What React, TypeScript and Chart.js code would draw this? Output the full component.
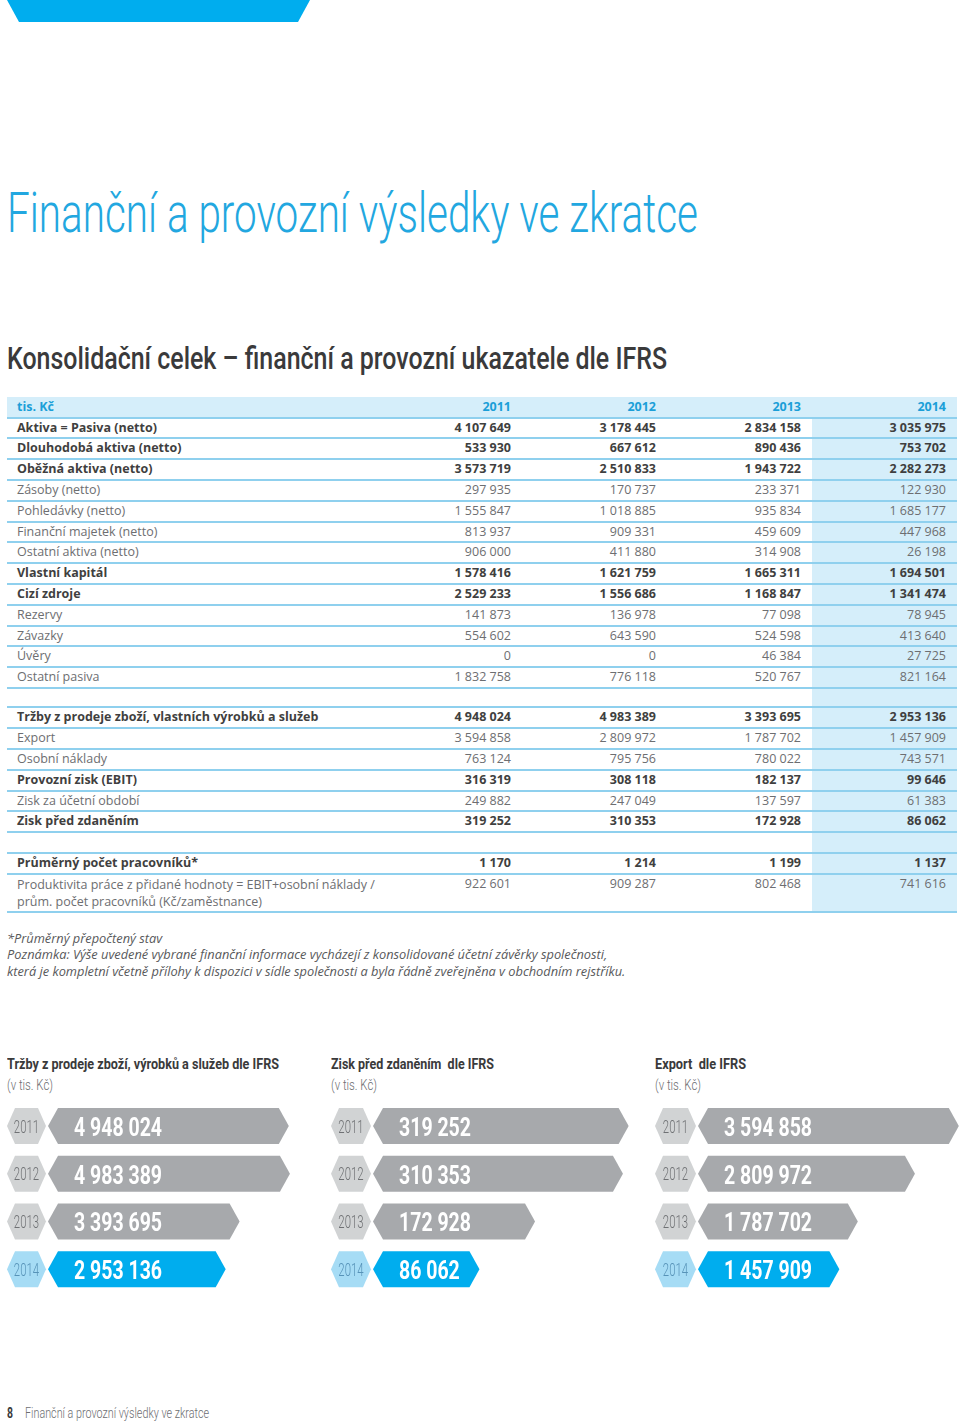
import React, { useEffect, useLayoutEffect, useRef } from 'react';
import { Chart, registerables } from 'chart.js';

Chart.register(...registerables);

// ---------- chart data ----------
const years = ['2011', '2012', '2013', '2014'];
const trzby = [4948024, 4983389, 3393695, 2953136];
const ziskPredZdanenim = [319252, 310353, 172928, 86062];
const exportIFRS = [3594858, 2809972, 1787702, 1457909];

// ---------- table data ----------
type Row = [string, string, string, string, string, boolean];
const tableYears = ['2011', '2012', '2013', '2014'];
const balanceRows: Row[] = [
  ['Aktiva = Pasiva (netto)', '4 107 649', '3 178 445', '2 834 158', '3 035 975', true],
  ['Dlouhodobá aktiva (netto)', '533 930', '667 612', '890 436', '753 702', true],
  ['Oběžná aktiva (netto)', '3 573 719', '2 510 833', '1 943 722', '2 282 273', true],
  ['Zásoby (netto)', '297 935', '170 737', '233 371', '122 930', false],
  ['Pohledávky (netto)', '1 555 847', '1 018 885', '935 834', '1 685 177', false],
  ['Finanční majetek (netto)', '813 937', '909 331', '459 609', '447 968', false],
  ['Ostatní aktiva (netto)', '906 000', '411 880', '314 908', '26 198', false],
  ['Vlastní kapitál', '1 578 416', '1 621 759', '1 665 311', '1 694 501', true],
  ['Cizí zdroje', '2 529 233', '1 556 686', '1 168 847', '1 341 474', true],
  ['Rezervy', '141 873', '136 978', '77 098', '78 945', false],
  ['Závazky', '554 602', '643 590', '524 598', '413 640', false],
  ['Úvěry', '0', '0', '46 384', '27 725', false],
  ['Ostatní pasiva', '1 832 758', '776 118', '520 767', '821 164', false],
];
const resultRows: Row[] = [
  ['Tržby z prodeje zboží, vlastních výrobků a služeb', '4 948 024', '4 983 389', '3 393 695', '2 953 136', true],
  ['Export', '3 594 858', '2 809 972', '1 787 702', '1 457 909', false],
  ['Osobní náklady', '763 124', '795 756', '780 022', '743 571', false],
  ['Provozní zisk (EBIT)', '316 319', '308 118', '182 137', '99 646', true],
  ['Zisk za účetní období', '249 882', '247 049', '137 597', '61 383', false],
  ['Zisk před zdaněním', '319 252', '310 353', '172 928', '86 062', true],
];
const staffRows: Row[] = [
  ['Průměrný počet pracovníků*', '1 170', '1 214', '1 199', '1 137', true],
  ['Produktivita práce z přidané hodnoty = EBIT+osobní náklady /\nprům. počet pracovníků (Kč/zaměstnance)', '922 601', '909 287', '802 468', '741 616', false],
];
const noteLines = [
  '*Průměrný přepočtený stav',
  'Poznámka: Výše uvedené vybrané finanční informace vycházejí z konsolidované účetní závěrky společnosti,',
  'která je kompletní včetně přílohy k dispozici v sídle společnosti a byla řádně zveřejněna v obchodním rejstříku.',
];

// ---------- styles ----------
const BLUE = '#00adee';
const TITLE_BLUE = '#22a7e0';
const HEAD_BLUE = '#1b9fd8';
const LIGHT = '#d5eefa';
const LINE = '#8fd0ee';
const DARK = '#3f3f40';
const GRAY = '#6d6e71';
const BAR_GRAY = '#a7a9ac';
const TAG_GRAY = '#d1d3d4';
const TAG_BLUE = '#a6dcf5';
const TAG_TEXT_GRAY = '#6f7174';
const TAG_TEXT_BLUE = '#5793b8';
const TABLE_FONT = '"Open Sans", "Noto Sans", sans-serif';
const COND_FONT = 'Roboto, sans-serif';
const NUM_RIGHT = [511, 656, 801, 946];
const ROW_H = 20.8;

const fmt = (n: number) => String(n).replace(/\B(?=(\d{3})+(?!\d))/g, ' ');

// ---------- helpers ----------
function FitText(props: {
  text: string; x: number; baseline: number; width: number; size: number;
  weight: number; color: string; family?: string; italic?: boolean;
}) {
  const { text, x, baseline, width, size, weight, color, family = COND_FONT, italic = false } = props;
  const ref = useRef<HTMLSpanElement>(null);
  useLayoutEffect(() => {
    const el = ref.current;
    if (!el) return;
    const fit = () => {
      el.style.transform = 'none';
      const w = el.getBoundingClientRect().width;
      if (w > 0) el.style.transform = `scaleX(${width / w})`;
    };
    fit();
    if ((document as any).fonts && (document as any).fonts.ready) (document as any).fonts.ready.then(fit);
  }, [text, width]);
  const top = baseline - 0.842 * size;
  return (
    <span
      ref={ref}
      style={{
        position: 'absolute', left: x, top, fontFamily: family, fontSize: size, fontWeight: weight,
        fontStyle: italic ? 'italic' : 'normal', color, lineHeight: 1, whiteSpace: 'pre',
        transformOrigin: '0 0', display: 'inline-block',
      }}
    >
      {text}
    </span>
  );
}

function HLine({ y }: { y: number }) {
  return <div style={{ position: 'absolute', left: 7, top: y - 1, width: 950, height: 2, background: LINE }} />;
}

function TableRow({ row, top, height, header = false }: { row: Row; top: number; height: number; header?: boolean }) {
  const [label, a, b, c, d, bold] = row;
  const color = header ? HEAD_BLUE : bold ? DARK : GRAY;
  const twoLine = label.includes('\n');
  const base: React.CSSProperties = {
    position: 'absolute', fontFamily: TABLE_FONT, fontSize: 12.5, fontWeight: bold ? 700 : 400,
    color, whiteSpace: 'pre',
  };
  return (
    <>
      <div
        style={{
          ...base, left: 17, top: twoLine ? top + 1.5 : top, height,
          lineHeight: twoLine ? '17px' : `${height}px`,
        }}
      >
        {label}
      </div>
      {[a, b, c, d].map((v, i) => (
        <div
          key={i}
          style={{
            ...base, right: 960 - NUM_RIGHT[i], top, height: twoLine ? ROW_H : height,
            lineHeight: `${twoLine ? ROW_H : height}px`, textAlign: 'right',
          }}
        >
          {v}
        </div>
      ))}
    </>
  );
}

const hexBarPlugin = {
  id: 'hexBars',
  afterDatasetsDraw(chart: any) {
    const ctx: CanvasRenderingContext2D = chart.ctx;
    const meta = chart.getDatasetMeta(0);
    const labels = chart.data.labels;
    const data = chart.data.datasets[0].data as number[];
    const last = data.length - 1;
    const tagRight = chart.chartArea.left - 2;
    meta.data.forEach((el: any, i: number) => {
      const { x, y, base, height } = el.getProps(['x', 'y', 'base', 'height'], true);
      const top = y - height / 2;
      const bot = y + height / 2;
      const hl = i === last;
      // year tag
      const d2 = 8;
      ctx.save();
      ctx.fillStyle = hl ? TAG_BLUE : TAG_GRAY;
      ctx.beginPath();
      ctx.moveTo(0, y);
      ctx.lineTo(d2, top);
      ctx.lineTo(tagRight - d2, top);
      ctx.lineTo(tagRight, y);
      ctx.lineTo(tagRight - d2, bot);
      ctx.lineTo(d2, bot);
      ctx.closePath();
      ctx.fill();
      // bar
      const d = 10;
      ctx.fillStyle = hl ? BLUE : BAR_GRAY;
      ctx.beginPath();
      ctx.moveTo(base, y);
      ctx.lineTo(base + d, top);
      ctx.lineTo(x - d, top);
      ctx.lineTo(x, y);
      ctx.lineTo(x - d, bot);
      ctx.lineTo(base + d, bot);
      ctx.closePath();
      ctx.fill();
      ctx.restore();
      // year text
      ctx.save();
      ctx.translate(tagRight / 2, y + 6.8);
      ctx.scale(0.6, 1);
      ctx.font = '300 19px Roboto';
      ctx.textAlign = 'center';
      ctx.textBaseline = 'alphabetic';
      ctx.fillStyle = hl ? TAG_TEXT_BLUE : TAG_TEXT_GRAY;
      ctx.fillText(String(labels[i]), 0, 0);
      ctx.restore();
      // value text
      ctx.save();
      ctx.translate(base + 26, y + 10);
      ctx.scale(0.78, 1);
      ctx.font = 'bold 25px Roboto';
      ctx.textAlign = 'left';
      ctx.textBaseline = 'alphabetic';
      ctx.fillStyle = '#ffffff';
      ctx.fillText(fmt(data[i]), 0, 0);
      ctx.restore();
    });
  },
};

function HexBarChart(props: { values: number[]; left: number; width: number; padLeft: number; axisMin: number; axisMax: number }) {
  const { values, left, width, padLeft, axisMin, axisMax } = props;
  const ref = useRef<HTMLCanvasElement>(null);
  useEffect(() => {
    if (!ref.current) return;
    const chart = new Chart(ref.current, {
      type: 'bar',
      data: {
        labels: years,
        datasets: [{
          data: values,
          backgroundColor: 'rgba(0,0,0,0)',
          borderWidth: 0,
          barThickness: 36,
          base: axisMin,
        } as any],
      },
      options: {
        indexAxis: 'y',
        animation: false,
        responsive: false,
        maintainAspectRatio: false,
        layout: { padding: { left: padLeft, right: 0, top: 2, bottom: 3 } },
        scales: {
          x: { display: false, min: axisMin, max: axisMax },
          y: { display: false },
        },
        plugins: { legend: { display: false }, tooltip: { enabled: false } },
      },
      plugins: [hexBarPlugin],
    });
    return () => chart.destroy();
  }, []);
  return (
    <canvas
      ref={ref}
      width={width}
      height={196}
      style={{ position: 'absolute', left, top: 1100, width, height: 196 }}
    />
  );
}

export default function App() {
  const headerTop = 397;
  const block1Top = 417.5;
  const block2Top = 707.3;
  const block3Top = 853.3;
  const lines: number[] = [];
  for (let k = 0; k <= balanceRows.length; k++) lines.push(block1Top + ROW_H * k);
  for (let k = 0; k <= resultRows.length; k++) lines.push(block2Top + ROW_H * k);
  lines.push(block3Top, block3Top + ROW_H, 912);

  return (
    <div style={{ position: 'absolute', left: 0, top: 0, width: 960, height: 1421, background: '#fff', overflow: 'hidden' }}>
      {/* top tab */}
      <div
        style={{
          position: 'absolute', left: 7, top: 0, width: 303, height: 22, background: BLUE,
          clipPath: 'polygon(0 0, 100% 0, calc(100% - 12px) 100%, 12px 100%)',
        }}
      />
      <FitText text="Finanční a provozní výsledky ve zkratce" x={7} baseline={232.5} width={691} size={56} weight={300} color={TITLE_BLUE} />
      <FitText text="Konsolidační celek – finanční a provozní ukazatele dle IFRS" x={7} baseline={369.5} width={660} size={31} weight={500} color="#3a3a3b" />

      {/* table backgrounds */}
      <div style={{ position: 'absolute', left: 7, top: headerTop, width: 950, height: block1Top - headerTop, background: LIGHT }} />
      <div style={{ position: 'absolute', left: 812, top: headerTop, width: 145, height: 912 - headerTop, background: LIGHT }} />
      {lines.map((y, i) => <HLine key={i} y={y} />)}

      <TableRow row={['tis. Kč', tableYears[0], tableYears[1], tableYears[2], tableYears[3], true]} top={headerTop} height={block1Top - headerTop - 1} header />
      {balanceRows.map((r, k) => <TableRow key={'b' + k} row={r} top={block1Top + ROW_H * k} height={ROW_H} />)}
      {resultRows.map((r, k) => <TableRow key={'r' + k} row={r} top={block2Top + ROW_H * k} height={ROW_H} />)}
      <TableRow row={staffRows[0]} top={block3Top} height={ROW_H} />
      <TableRow row={staffRows[1]} top={block3Top + ROW_H} height={912 - block3Top - ROW_H} />

      {/* notes */}
      {noteLines.map((t, i) => (
        <div
          key={i}
          style={{
            position: 'absolute', left: 7, top: 929.5 + i * 16.5, height: 17, lineHeight: '17px',
            fontFamily: TABLE_FONT, fontStyle: 'italic', fontSize: 12.8, color: '#58595b', whiteSpace: 'pre',
          }}
        >
          {t}
        </div>
      ))}

      {/* chart titles */}
      <FitText text="Tržby z prodeje zboží, výrobků a služeb dle IFRS" x={7} baseline={1070.7} width={272} size={14.5} weight={700} color="#3a3a3b" />
      <FitText text="(v tis. Kč)" x={7} baseline={1089.5} width={46} size={14} weight={300} color={GRAY} />
      <FitText text="Zisk před zdaněním  dle IFRS" x={331} baseline={1070.7} width={163} size={14.5} weight={700} color="#3a3a3b" />
      <FitText text="(v tis. Kč)" x={331} baseline={1089.5} width={46} size={14} weight={300} color={GRAY} />
      <FitText text="Export  dle IFRS" x={655} baseline={1070.7} width={91} size={14.5} weight={700} color="#3a3a3b" />
      <FitText text="(v tis. Kč)" x={655} baseline={1089.5} width={46} size={14} weight={300} color={GRAY} />

      <HexBarChart values={trzby} left={7} width={313} padLeft={41} axisMin={-2660000} axisMax={5933000} />
      <HexBarChart values={ziskPredZdanenim} left={331} width={309} padLeft={42} axisMin={-80400} axisMax={337000} />
      <HexBarChart values={exportIFRS} left={655} width={305} padLeft={43} axisMin={-1071600} axisMax={3615800} />

      {/* footer */}
      <FitText text="8" x={7} baseline={1418} width={6} size={14} weight={700} color="#3a3a3b" />
      <FitText text="Finanční a provozní výsledky ve zkratce" x={25} baseline={1418} width={184} size={14} weight={300} color={GRAY} />
    </div>
  );
}
